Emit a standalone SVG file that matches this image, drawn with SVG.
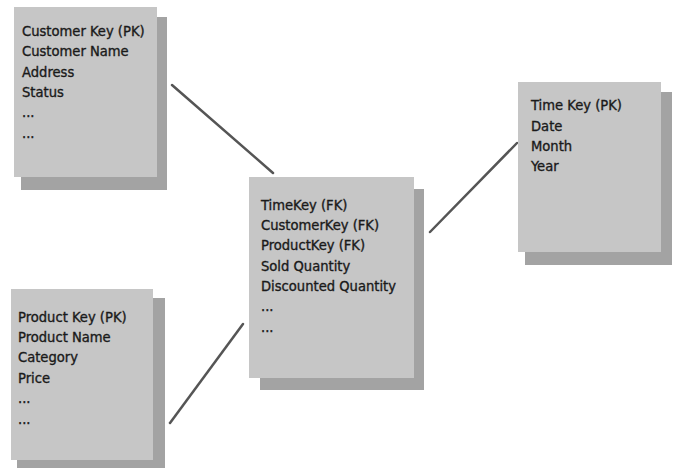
<svg xmlns="http://www.w3.org/2000/svg" width="674" height="468" viewBox="0 0 674 468">
<style>
.shadow{fill:#a3a3a3}
.box{fill:#c6c6c6}
.t{font-family:"DejaVu Sans Condensed","DejaVu Sans",sans-serif;font-size:14.6px;fill:#1a1a1a;stroke:#1a1a1a;stroke-width:0.35}
.conn{stroke:#555;stroke-width:2.5;stroke-linecap:round;fill:none}
</style>
<rect width="674" height="468" fill="#fff"/>
<g id="connectors">
<line class="conn" x1="172" y1="85" x2="273" y2="173"/>
<line class="conn" x1="170" y1="423" x2="243" y2="324"/>
<line class="conn" x1="430" y1="232" x2="517" y2="143"/>
</g>
<g id="customer">
<rect class="shadow" x="21" y="17" width="146" height="173"/>
<rect class="box" x="14" y="7" width="143" height="170"/>
<text class="t" x="22" y="36">Customer Key (PK)</text>
<text class="t" x="22" y="56">Customer Name</text>
<text class="t" x="22" y="77">Address</text>
<text class="t" x="22" y="97">Status</text>
<text class="t" x="22" y="117">...</text>
<text class="t" x="22" y="138">...</text>
</g>
<g id="fact">
<rect class="shadow" x="260" y="189" width="164" height="201"/>
<rect class="box" x="249" y="177" width="165" height="201"/>
<text class="t" x="261" y="210">TimeKey (FK)</text>
<text class="t" x="261" y="230">CustomerKey (FK)</text>
<text class="t" x="261" y="250">ProductKey (FK)</text>
<text class="t" x="261" y="271">Sold Quantity</text>
<text class="t" x="261" y="291">Discounted Quantity</text>
<text class="t" x="261" y="311">...</text>
<text class="t" x="261" y="332">...</text>
</g>
<g id="time">
<rect class="shadow" x="525" y="92" width="147" height="173"/>
<rect class="box" x="518" y="82" width="143" height="170"/>
<text class="t" x="531" y="110">Time Key (PK)</text>
<text class="t" x="531" y="131">Date</text>
<text class="t" x="531" y="151">Month</text>
<text class="t" x="531" y="171">Year</text>
</g>
<g id="product">
<rect class="shadow" x="17" y="298" width="148" height="177"/>
<rect class="box" x="11" y="289" width="142" height="171"/>
<text class="t" x="18" y="322">Product Key (PK)</text>
<text class="t" x="18" y="342">Product Name</text>
<text class="t" x="18" y="362">Category</text>
<text class="t" x="18" y="383">Price</text>
<text class="t" x="18" y="403">...</text>
<text class="t" x="18" y="424">...</text>
</g>
</svg>
